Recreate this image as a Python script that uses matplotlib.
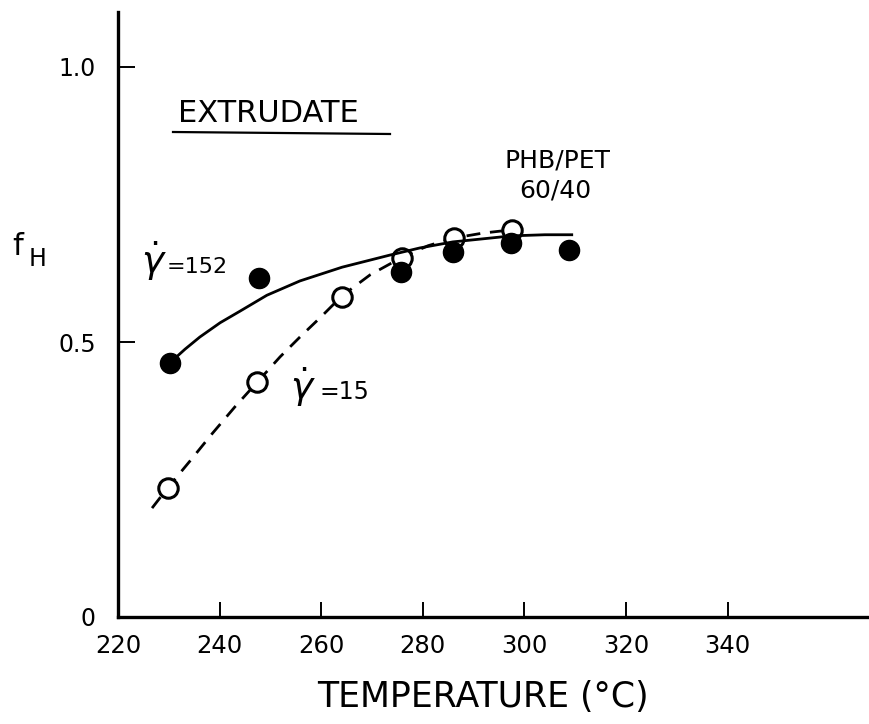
import matplotlib
matplotlib.use('Agg')
import matplotlib.pyplot as plt
from matplotlib.lines import Line2D

plt.rcParams['font.family'] = ['DejaVu Sans']
plt.rcParams['mathtext.fontset'] = 'dejavusans'

W, H = 870, 724

# measured points (temperature in C, f_H)
temp_152 = [230.2, 247.8, 275.6, 286.0, 297.4, 308.7]
fh_152 = [0.462, 0.616, 0.627, 0.664, 0.680, 0.667]
temp_15 = [229.9, 247.4, 264.1, 275.8, 286.2, 297.6]
fh_15 = [0.235, 0.427, 0.582, 0.653, 0.689, 0.704]

# hand drawn curves
curve_152_t = [230.2, 233.2, 236.1, 240.1, 244.0, 249.3, 255.8, 264.1,
               273.5, 279.4, 285.9, 291.2, 297.5, 304.0, 309.3]
curve_152_f = [0.462, 0.487, 0.509, 0.535, 0.556, 0.585, 0.611, 0.636,
               0.658, 0.671, 0.682, 0.687, 0.693, 0.695, 0.695]
curve_15_t = [226.7, 229.8, 234.2, 238.5, 243.0, 247.4, 251.9, 255.8,
              260.1, 264.1, 269.6, 275.7, 281.0, 286.1, 291.8, 297.5]
curve_15_f = [0.198, 0.235, 0.284, 0.333, 0.382, 0.427, 0.473, 0.509,
              0.547, 0.584, 0.622, 0.653, 0.675, 0.689, 0.698, 0.704]

xticks = [220, 240, 260, 280, 300, 320, 340]
yticks = [0, 0.5, 1.0]
ytick_labels = ['0', '0.5', '1.0']


def fx(px):
    return px / W


def fy(py):
    return 1 - py / H


fig = plt.figure(figsize=(8.7, 7.24), dpi=100)
ax = fig.add_axes([fx(118), fy(617), fx(870) - fx(118), fy(12) - fy(617)])
ax.set_xlim(220, 368)
ax.set_ylim(0, 1.1)

ax.plot(curve_15_t, curve_15_f, color='black', lw=2, ls=(0, (5, 3.5)), zorder=2)
ax.plot(temp_15, fh_15, 'o', ms=14, mfc='white', mec='black', mew=2.2, zorder=3)
ax.plot(curve_152_t, curve_152_f, color='black', lw=2, zorder=4)
ax.plot(temp_152, fh_152, 'o', ms=14.5, mfc='black', mec='black', zorder=5)

for side in ['top', 'right']:
    ax.spines[side].set_visible(False)
for side in ['left', 'bottom']:
    ax.spines[side].set_linewidth(2.4)

ax.set_xticks(xticks)
ax.set_xticklabels([str(t) for t in xticks])
ax.set_yticks(yticks)
ax.set_yticklabels(ytick_labels)
ax.tick_params(axis='x', direction='in', length=11, width=1.4, labelsize=17.5, pad=12)
ax.tick_params(axis='y', direction='in', length=12, width=1.4, labelsize=17, pad=16)
ax.xaxis.get_major_ticks()[0].tick1line.set_visible(False)
ax.yaxis.get_major_ticks()[0].tick1line.set_visible(False)

# labels and annotations
fig.text(fx(483), fy(697), 'TEMPERATURE (°C)', fontsize=25, ha='center', va='center')
fig.text(fx(12), fy(246), 'f', fontsize=22, ha='left', va='center')
fig.text(fx(29), fy(259), 'H', fontsize=17, ha='left', va='center')

fig.text(fx(178), fy(113), 'EXTRUDATE', fontsize=22, ha='left', va='center')
fig.add_artist(Line2D([fx(173), fx(390)], [fy(132), fy(134)], color='black', lw=1.6))

fig.text(fx(558), fy(160), 'PHB/PET', fontsize=18, ha='center', va='center')
fig.text(fx(555), fy(190), '60/40', fontsize=18, ha='center', va='center')

fig.text(fx(141), fy(273), r'$\dot{\gamma}$', fontsize=27, ha='left', va='baseline')
fig.text(fx(167), fy(273), '=152', fontsize=16, ha='left', va='baseline')
fig.text(fx(290), fy(399), r'$\dot{\gamma}$', fontsize=27, ha='left', va='baseline')
fig.text(fx(320), fy(399), '=15', fontsize=17, ha='left', va='baseline')

fig.savefig('out.png', dpi=100)
